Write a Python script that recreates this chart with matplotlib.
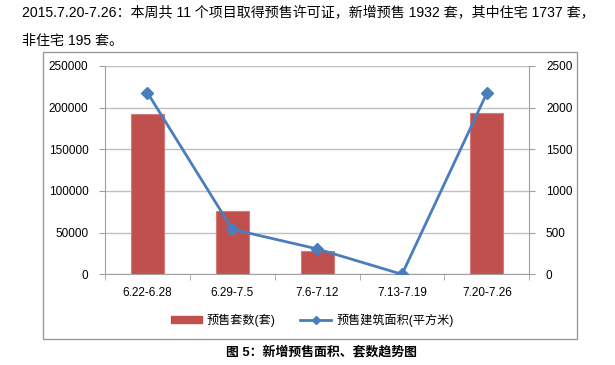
import matplotlib
matplotlib.use('Agg')
import matplotlib.pyplot as plt
from matplotlib.patches import Rectangle, Patch
from matplotlib.lines import Line2D
import numpy as np

plt.rcParams['font.family'] = ['Liberation Sans', 'Noto Sans CJK SC']

weeks = ['6.22-6.28', '6.29-7.5', '7.6-7.12', '7.13-7.19', '7.20-7.26']
bar_vals = [192000, 76000, 27600, 0, 193000]
line_vals = [2180, 540, 305, 0, 2175]
bar_name = '预售套数(套)'
line_name = '预售建筑面积(平方米)'
header1 = '2015.7.20-7.26：本周共 11 个项目取得预售许可证，新增预售 1932 套，其中住宅 1737 套，'
header2 = '非住宅 195 套。'
caption = '图 5：新增预售面积、套数趋势图'

W, H = 615, 365
fig = plt.figure(figsize=(W / 100, H / 100), dpi=100)


def fx(px):
    return px / W


def fy(py):
    return 1 - py / H


# chart frame
fig.patches.append(Rectangle((fx(43), fy(339)), fx(577) - fx(43), fy(52) - fy(339),
                             transform=fig.transFigure, fill=False,
                             edgecolor='#9a9a9a', linewidth=1.0))

fig.text(fx(22), fy(13), header1, fontsize=10.1, va='center', ha='left')
fig.text(fx(22), fy(41), header2, fontsize=10.1, va='center', ha='left')
fig.text(fx(322), fy(352), caption, fontsize=9.3, fontweight='bold',
         va='center', ha='center')

ax = fig.add_axes([fx(105), fy(274.3), fx(529.3) - fx(105), fy(66) - fy(274.3)])
x = np.arange(len(weeks))
ax.bar(x, bar_vals, width=0.39, color='#C0504D', edgecolor='#D47B78',
       linewidth=0.8, zorder=2)
ax.set_xlim(-0.5, len(weeks) - 0.5)
ax.set_ylim(0, 250000)
ax.set_yticks(np.arange(0, 250001, 50000))
ax.set_xticks(x)
ax.set_xticklabels(weeks)
ax.set_xticks(np.arange(-0.5, len(weeks), 1), minor=True)
ax.tick_params(axis='x', which='major', length=0, pad=9, labelsize=8.5)
ax.tick_params(axis='x', which='minor', length=4, color='#a0a0a0', direction='out')
ax.tick_params(axis='y', length=4, color='#a0a0a0', labelsize=8.5, pad=8)
ax.grid(axis='y', color='#c0c0c0', linewidth=1.0, zorder=0)
ax.set_axisbelow(True)
for s in ['top', 'right']:
    ax.spines[s].set_visible(False)
for s in ['left', 'bottom']:
    ax.spines[s].set_color('#a0a0a0')

ax2 = ax.twinx()
ax2.plot(x, line_vals, color='#4A7EBB', linewidth=2.0, marker='D',
         markersize=6, markerfacecolor='#4A7EBB', markeredgecolor='#4A7EBB')
ax2.set_ylim(0, 2500)
ax2.set_yticks(np.arange(0, 2501, 500))
ax2.tick_params(axis='y', length=4, color='#a0a0a0', labelsize=8.5, pad=8)
for s in ['top', 'left', 'bottom']:
    ax2.spines[s].set_visible(False)
ax2.spines['right'].set_color('#a0a0a0')

handles = [Patch(facecolor='#C0504D', edgecolor='#C0504D'),
           Line2D([0], [0], color='#4A7EBB', linewidth=2.0, marker='D',
                  markersize=4)]
fig.legend(handles, [bar_name, line_name], loc='center', ncol=2,
           bbox_to_anchor=(fx(312), fy(320)), frameon=False, fontsize=8.7,
           handlelength=2.6, handleheight=0.6, columnspacing=2.0,
           handletextpad=0.4)

fig.savefig('out.png', dpi=100)
